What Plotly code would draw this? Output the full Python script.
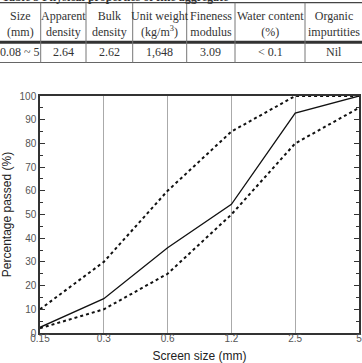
import plotly.graph_objects as go

# ---- data ----
sizes = ["0.15", "0.3", "0.6", "1.2", "2.5", "5"]
passed = [2.4, 14.5, 36, 54.3, 92.8, 100]
upper_limit = [10, 30, 60, 85, 100, 100]
lower_limit = [2, 10, 25, 50, 80, 95]
y_ticks = [0, 10, 20, 30, 40, 50, 60, 70, 80, 90, 100]

table_headers = ["Size<br>(mm)", "Apparent<br>density", "Bulk<br>density",
                 "Unit weight<br>(kg/m<sup>3</sup>)", "Fineness<br>modulus",
                 "Water content<br>(%)", "Organic<br>impurtities"]
table_values = ["0.08 ~ 5", "2.64", "2.62", "1,648", "3.09", "< 0.1", "Nil"]
col_widths = [40.7, 45.3, 46.7, 54, 48.3, 70, 57]

W, H = 362, 363
SERIF = "Liberation Serif, DejaVu Serif, serif"
fig = go.Figure()

fig.add_trace(go.Scatter(x=sizes, y=upper_limit, mode="lines",
                         line=dict(color="#111", width=2, dash="3px,3px"),
                         showlegend=False))
fig.add_trace(go.Scatter(x=sizes, y=lower_limit, mode="lines",
                         line=dict(color="#111", width=2, dash="3px,3px"),
                         showlegend=False))
fig.add_trace(go.Scatter(x=sizes, y=passed, mode="lines",
                         line=dict(color="#111", width=1.3),
                         showlegend=False))

# ---- table drawn with shapes and annotations (paper coords) ----
def py(px):
    return 1 - px / H

top, sep, bottom = 2.7, 42.3, 62.5
edges = [0]
for w in col_widths:
    edges.append(edges[-1] + w)
scale = W / edges[-1]
edges = [e * scale for e in edges]

fig.add_shape(type="line", xref="paper", yref="paper", x0=0, x1=1,
              y0=py(top), y1=py(top), line=dict(color="#444", width=1.2))
fig.add_shape(type="line", xref="paper", yref="paper", x0=0, x1=1,
              y0=py(sep), y1=py(sep), line=dict(color="#333", width=3))
fig.add_shape(type="line", xref="paper", yref="paper", x0=0, x1=1,
              y0=py(bottom), y1=py(bottom), line=dict(color="#666", width=1))
for e in edges[1:-1]:
    fig.add_shape(type="line", xref="paper", yref="paper", x0=e / W, x1=e / W,
                  y0=py(bottom), y1=py(top), line=dict(color="#777", width=1))

for i, (hdr, val) in enumerate(zip(table_headers, table_values)):
    cx = (edges[i] + edges[i + 1]) / 2 / W
    fig.add_annotation(text=hdr, xref="paper", yref="paper", x=cx, y=py(23.5),
                       xanchor="center", yanchor="middle", showarrow=False,
                       font=dict(family=SERIF, size=12, color="#333"))
    fig.add_annotation(text=val, xref="paper", yref="paper", x=cx, y=py(52.5),
                       xanchor="center", yanchor="middle", showarrow=False,
                       font=dict(family=SERIF, size=12, color="#333"))

fig.add_annotation(text="<b>Table 5 Physical properties of fine aggregate</b>",
                   xref="paper", yref="paper", x=0, y=1, xanchor="left",
                   yanchor="bottom", yshift=-6, showarrow=False,
                   font=dict(family=SERIF, size=12, color="#333"))

fig.update_layout(
    width=W, height=H, margin=dict(l=0, r=0, t=0, b=0),
    paper_bgcolor="white", plot_bgcolor="white",
    font=dict(family="Arial, Liberation Sans", color="#333"),
    xaxis=dict(type="category", domain=[40 / W, 359 / W], range=[0, 5],
               showgrid=True, gridcolor="#aaa", gridwidth=1.2,
               showline=True, linecolor="#333", linewidth=1.5, mirror=True,
               ticks="", tickfont=dict(size=10, color="#555"),
               ticklabelstandoff=-5,
               title=dict(text="Screen size (mm)", font=dict(size=12, color="#222"),
                          standoff=14),
               automargin=False, zeroline=False),
    yaxis=dict(domain=[1 - 333 / H, 1 - 96 / H], range=[0, 100],
               tickvals=y_ticks, showgrid=False, zeroline=False,
               showline=True, linecolor="#333", linewidth=1.5, mirror="allticks",
               ticks="inside", ticklen=5, tickcolor="#333", tickwidth=1,
               minor=dict(dtick=5, ticks="inside", ticklen=3, tickcolor="#333"),
               tickfont=dict(size=10, color="#555"),
               title=dict(text="Percentage passed (%)", font=dict(size=12, color="#222"),
                          standoff=6),
               automargin=False),
)

fig.write_html("out.html")
